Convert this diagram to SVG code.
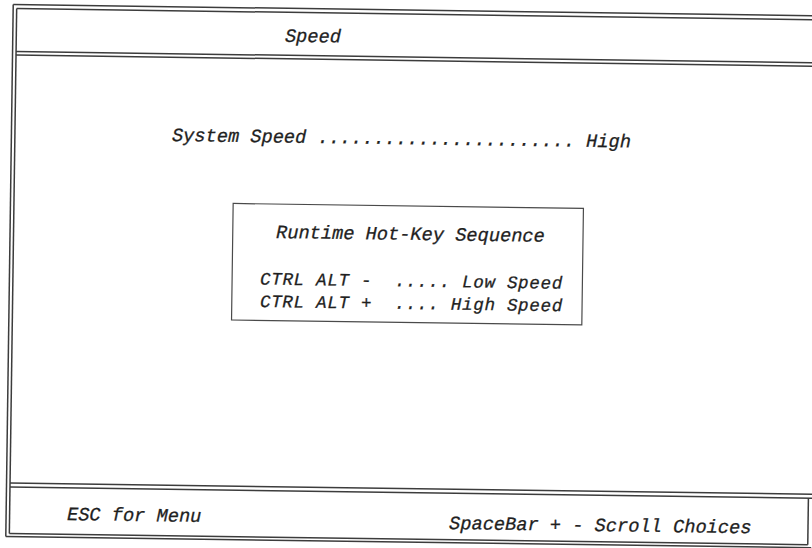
<svg xmlns="http://www.w3.org/2000/svg" width="812" height="548" viewBox="0 0 812 548">
<style>
.t{font-family:"Liberation Mono","DejaVu Sans Mono",monospace;font-style:italic;font-size:18.67px;fill:#1f1f1f;stroke:#1f1f1f;stroke-width:0.3}
.s{font-size:17.5px}
.f{stroke:#3c3c3c;stroke-width:1.5;fill:none}
.b{stroke:#4a4a4a;stroke-width:1.2;fill:none}
</style>
<rect width="812" height="548" fill="#ffffff"/>
<g transform="rotate(0.8 406 274)">
<g id="frame">
<line class="f" x1="9.5" y1="10" x2="830" y2="10"/>
<line class="f" x1="13" y1="14" x2="830" y2="14"/>
<line class="f" x1="9.5" y1="10" x2="9.5" y2="542"/>
<line class="f" x1="13" y1="14" x2="13" y2="539"/>
<line class="f" x1="13" y1="57" x2="830" y2="57"/>
<line class="f" x1="13" y1="60.5" x2="830" y2="60.5"/>
<line class="f" x1="13" y1="488.5" x2="830" y2="488.5"/>
<line class="f" x1="13" y1="492.5" x2="830" y2="492.5"/>
<line class="f" x1="13" y1="539" x2="811.5" y2="539"/>
<line class="f" x1="9.5" y1="542" x2="815" y2="542"/>
<line class="f" x1="811.5" y1="492.5" x2="811.5" y2="539"/>
</g>
<g id="header">
<text class="t" x="281.7" y="43.4" textLength="56">Speed</text>
</g>
<g id="system-speed">
<text class="t" x="170.1" y="144.3" textLength="459">System Speed ....................... High</text>
</g>
<g id="hotkey-box">
<rect class="b" x="232.2" y="205.9" width="350.3" height="116.5"/>
<text class="t" x="275.5" y="239.8" textLength="268.8">Runtime Hot-Key Sequence</text>
<text class="t s" x="260.1" y="286.5" textLength="302.4" xml:space="preserve">CTRL ALT -  ..... Low Speed</text>
<text class="t s" x="260.4" y="309" textLength="302.4" xml:space="preserve">CTRL ALT +  .... High Speed</text>
</g>
<g id="footer">
<text class="t" x="70.4" y="524.7" textLength="134.4">ESC for Menu</text>
<text class="t" x="452.6" y="528.4" textLength="302.4">SpaceBar + - Scroll Choices</text>
</g>
</g>
</svg>
